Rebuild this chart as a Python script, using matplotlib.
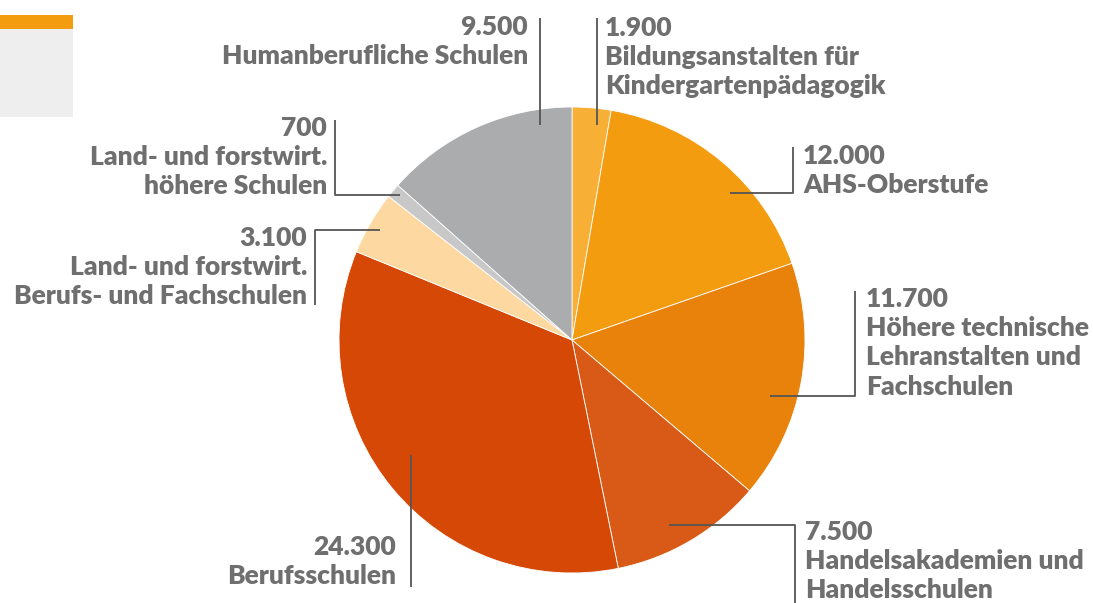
import matplotlib.pyplot as plt
from matplotlib.patches import Rectangle

# school types, clockwise from the top
labels = ["Bildungsanstalten für\nKindergartenpädagogik", "AHS-Oberstufe",
          "Höhere technische\nLehranstalten und\nFachschulen",
          "Handelsakademien und\nHandelsschulen", "Berufsschulen",
          "Land- und forstwirt.\nBerufs- und Fachschulen",
          "Land- und forstwirt.\nhöhere Schulen", "Humanberufliche Schulen"]
values = [1900, 12000, 11700, 7500, 24300, 3100, 700, 9500]
colors = ["#F7AF36", "#F39C10", "#E8820A", "#D95A16", "#D64806",
          "#FDD9A1", "#C8C8C8", "#ABACAE"]

W, H = 1093, 603
fig = plt.figure(figsize=(W / 100, H / 100), dpi=100)
ax = fig.add_axes([0, 0, 1, 1])

cx, cy, r = 572, H - 340, 233
ax.pie(values, colors=colors, startangle=90, counterclock=False,
       center=(cx, cy), radius=r,
       wedgeprops=dict(edgecolor="white", linewidth=0.6))
ax.set_xlim(0, W)
ax.set_ylim(0, H)
ax.set_aspect("equal")
ax.axis("off")

# decoration top left
ax.add_patch(Rectangle((0, H - 117), 73, 89, color="#EEEEEE", lw=0))
ax.add_patch(Rectangle((0, H - 29), 73, 14, color="#F39C10", lw=0))

def fmt(v):
    return f"{v:,}".replace(",", ".")

# leader lines in pixel coords (x list, y list) and label anchors
leaders = [
    ([597, 597], [18, 125]),
    ([730, 793, 793], [193, 193, 147]),
    ([770, 855, 855], [396, 396, 291]),
    ([669, 795, 795], [525, 525, 603]),
    ([411, 411], [455, 587]),
    ([380, 315, 315], [230, 230, 305]),
    ([400, 335, 335], [195, 195, 120]),
    ([540, 540], [18, 125]),
]
anchors = [(605, 16, "left"), (803, 144, "left"), (866, 287, "left"),
           (805, 520, "left"), (396, 535, "right"), (307, 226, "right"),
           (327, 116, "right"), (528, 15, "right")]

for lab, v, (xs, ys), (tx, ty, ha) in zip(labels, values, leaders, anchors):
    ax.plot(xs, [H - y for y in ys], color="#555555", lw=1.3,
            solid_capstyle="butt")
    ax.text(tx, H - ty, fmt(v) + "\n" + lab, ha=ha, va="top",
            multialignment=ha, fontsize=19, fontweight="heavy",
            family="Lato", color="#6F6F6F", linespacing=1.26)

fig.savefig("out.png", dpi=100)
